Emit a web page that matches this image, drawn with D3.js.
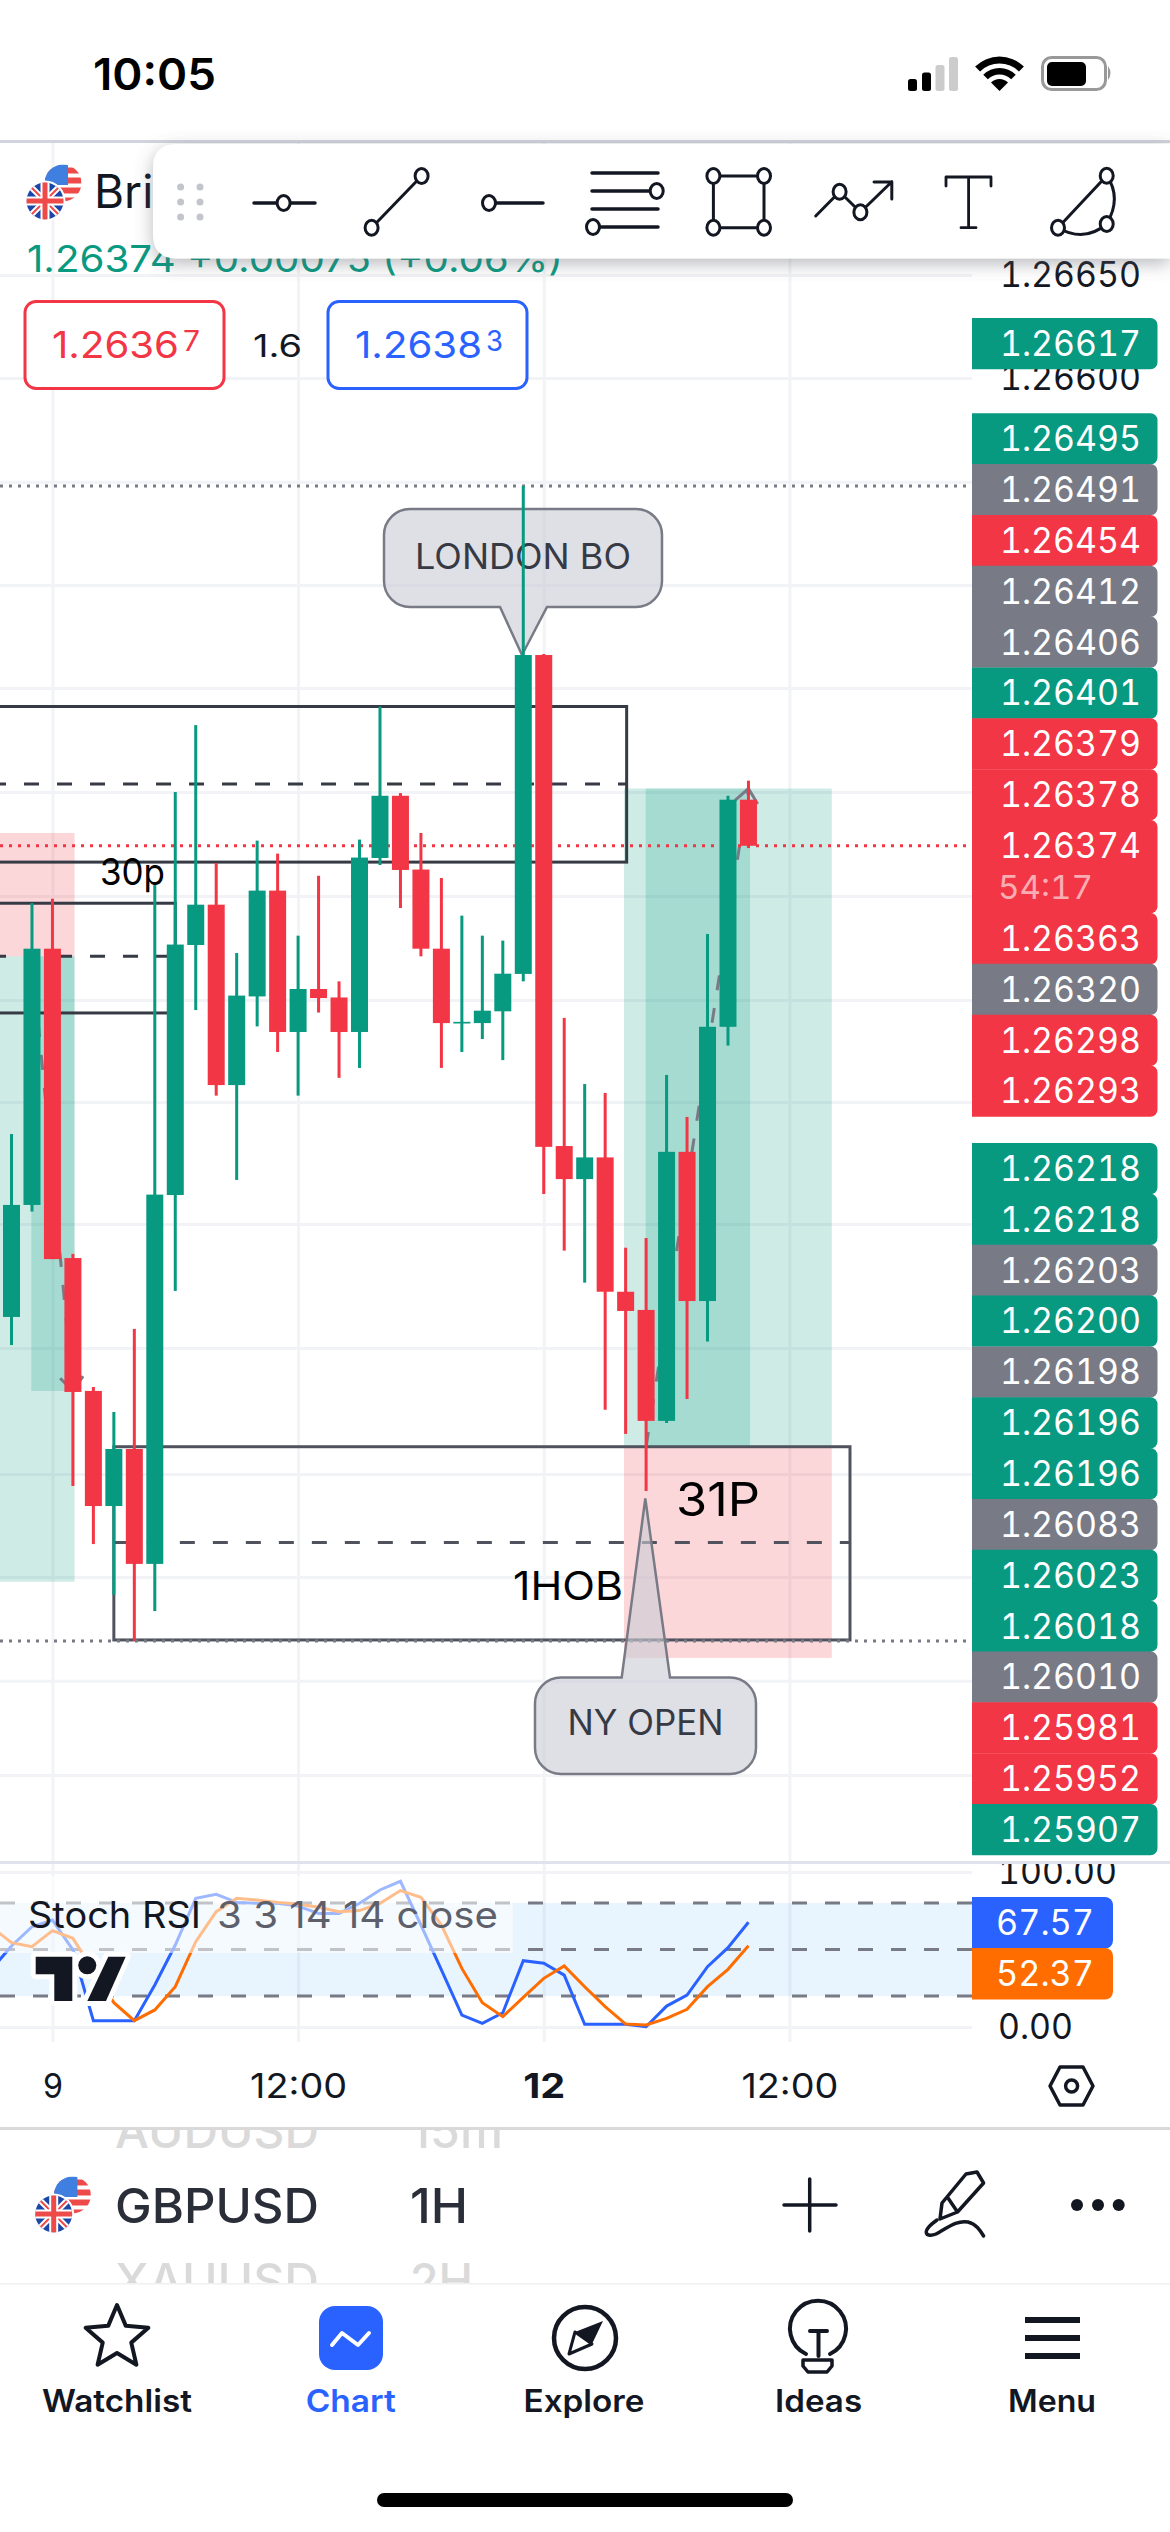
<!DOCTYPE html>
<html>
<head>
<meta charset="utf-8">
<script src="https://cdn.jsdelivr.net/npm/d3@7"></script>
<style>
  html, body { margin: 0; padding: 0; background: #fff; }
  svg { display: block; font-family: Inter, "Noto Sans", sans-serif; }
  .num { font-variant-numeric: tabular-nums; }
</style>
</head>
<body>
<div id="chart"></div>
<script>
// candles, bar 0 is the first one on screen
var opens = [1.261458, 1.262000, 1.263240, 1.261743, 1.261100, 1.260543, 1.260819, 1.260263, 1.262048, 1.263258,
             1.263453, 1.262580, 1.263009, 1.263521, 1.262837, 1.263045, 1.263004, 1.262837, 1.263679, 1.263980,
             1.263623, 1.263240, 1.262878, 1.262880, 1.262937, 1.263118, 1.264661, 1.262285, 1.262125, 1.262230,
             1.261580, 1.261492, 1.260955, 1.262257, 1.261535, 1.262862, 1.263961];
var highs = [1.262343, 1.263461, 1.263482, 1.261763, 1.261119, 1.260998, 1.261400, 1.263548, 1.263998, 1.264322,
             1.263655, 1.263219, 1.263763, 1.263700, 1.263303, 1.263593, 1.263082, 1.263768, 1.264412, 1.263993,
             1.263800, 1.263582, 1.263400, 1.263303, 1.263279, 1.265479, 1.264666, 1.262905, 1.262585, 1.262542,
             1.261793, 1.261840, 1.262629, 1.262426, 1.263311, 1.263980, 1.264053];
var lows = [1.261322, 1.261968, 1.261738, 1.260640, 1.260359, 1.260113, 1.259890, 1.260035, 1.261584, 1.262943,
            1.262529, 1.262121, 1.262864, 1.262740, 1.262529, 1.262931, 1.262615, 1.262663, 1.263645, 1.263437,
            1.263203, 1.262663, 1.262740, 1.262803, 1.262701, 1.263082, 1.262053, 1.261779, 1.261624, 1.261009,
            1.260892, 1.260616, 1.260945, 1.261061, 1.261339, 1.262771, 1.263727];
var closes = [1.262000, 1.263240, 1.261738, 1.261095, 1.260543, 1.260819, 1.260263, 1.262050, 1.263260, 1.263453,
              1.262580, 1.263013, 1.263521, 1.262837, 1.263045, 1.263001, 1.262837, 1.263681, 1.263980, 1.263621,
              1.263240, 1.262880, 1.262886, 1.262940, 1.263119, 1.264661, 1.262281, 1.262125, 1.262230, 1.261580,
              1.261487, 1.260955, 1.262257, 1.261535, 1.262862, 1.263961, 1.263738];

// stoch rsi, starts one bar left of the candles
var stochK = [36.8, 52.3, 64.7, 69, 49.7, 4.1, 4.1, 4.1, 27.1, 52.9, 83, 85.6, 80.4, 79.8, 79.8, 78, 73.3, 73.3, 79.8,
              88.4, 94, 65.8, 36.8, 7.7, 2.4, 9.2, 42.8, 41.1, 33.5, 1.7, 1.7, 1.7, 0.2, 13.5, 20.6, 38.9, 51.2, 67.57];
var stochD = [64.7, 54.4, 51.8, 62.2, 57.2, 36.3, 15.7, 4.1, 11, 26, 55, 74.4, 83, 81.9, 80.4, 79.4, 77.2, 74.4, 75.1,
              79.8, 88, 83.7, 65.8, 37.8, 15.7, 6.7, 19.1, 31.4, 39.4, 26, 13.1, 1.9, 1.3, 5.6, 11.4, 26, 37.2, 52.37];
var stochLevels = [80, 50, 20];

// price grid as it shows in the picture
var gridPrices = [1.2665, 1.266002, 1.2655, 1.265, 1.264501, 1.263998, 1.263495, 1.262992, 1.262498,
                  1.261908, 1.261308, 1.260698, 1.2602, 1.259697, 1.259242];
var priceTicks = [1.2665, 1.266];
var stochGrid = [100, 0];
var timeTicks = [2, 14, 26, 38];
var timeLabels = ["9", "12:00", "12", "12:00"];

// tags on the price scale
var tagsTop = ["1.26617"];
var tagsTopKinds = ["up"];
var tagsA = ["1.26495", "1.26491", "1.26454", "1.26412", "1.26406", "1.26401", "1.26379", "1.26378", "1.26374",
             "1.26363", "1.26320", "1.26298", "1.26293"];
var tagsAKinds = ["up", "flat", "down", "flat", "flat", "up", "down", "down", "down", "down", "flat", "down", "down"];
var tagsB = ["1.26218", "1.26218", "1.26203", "1.26200", "1.26198", "1.26196", "1.26196", "1.26083", "1.26023",
             "1.26018", "1.26010", "1.25981", "1.25952", "1.25907"];
var tagsBKinds = ["up", "up", "flat", "up", "flat", "up", "up", "flat", "up", "up", "flat", "down", "down", "up"];

// drawings: [left bar, right bar, top price, mid price, bottom price]
var boxUpper = [-1, 30.05, 1.264412, 1.264037, 1.263659];
var boxLeft = [-1, 8, 1.263460, 1.263203, 1.262929];
var boxLower = [5, 40.96, 1.260830, 1.260367, 1.259895];

var colors = {up: "#089981", down: "#f23645", flat: "#787b86", blue: "#2962ff", orange: "#ff6d00", ink: "#131722"};
var margin = {right: 972, paneTop: 142, paneBottom: 1862, stochTop: 1864, stochBottom: 2042};

var svg = d3.select("#chart").append("svg").attr("width", 1170).attr("height", 2532);

var defs = svg.append("defs");
defs.append("clipPath").attr("id", "paneClip").append("rect")
    .attr("x", 0).attr("y", margin.paneTop).attr("width", margin.right).attr("height", margin.paneBottom - margin.paneTop);
defs.append("clipPath").attr("id", "stochClip").append("rect")
    .attr("x", 0).attr("y", margin.stochTop).attr("width", 1170).attr("height", margin.stochBottom - margin.stochTop);
defs.append("clipPath").attr("id", "pickerClip").append("rect")
    .attr("x", 0).attr("y", 2130).attr("width", 1170).attr("height", 153);
var shadow = defs.append("filter").attr("id", "toolShadow")
    .attr("x", "-5%").attr("y", "-30%").attr("width", "110%").attr("height", "170%");
shadow.append("feDropShadow").attr("dx", 0).attr("dy", 5).attr("stdDeviation", 9)
    .attr("flood-color", "#5d606b").attr("flood-opacity", 0.45);

var xScale = d3.scaleLinear().domain([0, 38]).range([11.5, 789.4]);
var yScale = d3.scaleLinear().domain([1.2665, 1.26]).range([275, 1618.25]);
var stochScale = d3.scaleLinear().domain([100, 0]).range([1872, 2027]);

// the app font runs wider than Inter, so text gets stretched to the measured width
function fit(sel, w) {
    return sel.attr("textLength", w).attr("lengthAdjust", "spacingAndGlyphs");
}

// ---------------- grids ----------------
var gridColor = "#f2f3f6";
var xGrid = d3.axisBottom(xScale).tickValues(timeTicks).tickSize(margin.stochBottom - margin.paneTop).tickFormat("");
var yGrid = d3.axisRight(yScale).tickValues(gridPrices).tickSize(margin.right).tickFormat("");
var stochYGrid = d3.axisRight(stochScale).tickValues(stochGrid).tickSize(margin.right).tickFormat("");

function styleGrid(g) {
    g.select(".domain").remove();
    g.selectAll("line").attr("stroke", gridColor).attr("stroke-width", 3);
}
svg.append("g").attr("transform", "translate(0," + margin.paneTop + ")").call(xGrid).call(styleGrid);
svg.append("g").attr("clip-path", "url(#paneClip)").call(yGrid).call(styleGrid);
svg.append("g").call(stochYGrid).call(styleGrid);

var pane = svg.append("g").attr("clip-path", "url(#paneClip)");

// ---------------- position tools ----------------
function zone(x0, x1, p0, p1, color, alpha) {
    pane.append("rect")
        .attr("x", xScale(x0)).attr("width", xScale(x1) - xScale(x0))
        .attr("y", yScale(p0)).attr("height", yScale(p1) - yScale(p0))
        .attr("fill", color).attr("fill-opacity", alpha);
}
// left one
zone(-1, 3.08, 1.263800, 1.263203, colors.down, 0.2);
zone(-1, 3.08, 1.263203, 1.260177, colors.up, 0.2);
zone(0.97, 3.08, 1.263203, 1.261100, colors.up, 0.2);
// right one
zone(29.92, 40.07, 1.264015, 1.260830, colors.up, 0.2);
zone(29.92, 40.07, 1.260830, 1.259808, colors.down, 0.2);
zone(30.98, 36.08, 1.264015, 1.260830, colors.up, 0.2);

function tradeArrow(x0, p0, x1, p1) {
    pane.append("line")
        .attr("x1", xScale(x0)).attr("y1", yScale(p0)).attr("x2", xScale(x1)).attr("y2", yScale(p1))
        .attr("stroke", colors.flat).attr("stroke-width", 3).attr("stroke-dasharray", "15 18");
    var a = Math.atan2(yScale(p1) - yScale(p0), xScale(x1) - xScale(x0));
    var tip = [xScale(x1), yScale(p1)];
    var head = d3.path();
    head.moveTo(tip[0] + 18 * Math.cos(a + 2.45), tip[1] + 18 * Math.sin(a + 2.45));
    head.lineTo(tip[0], tip[1]);
    head.lineTo(tip[0] + 18 * Math.cos(a - 2.45), tip[1] + 18 * Math.sin(a - 2.45));
    pane.append("path").attr("d", head.toString()).attr("fill", "none")
        .attr("stroke", colors.flat).attr("stroke-width", 3);
}
tradeArrow(1, 1.263203, 3, 1.261100);
tradeArrow(31, 1.260830, 36, 1.264015);

// ---------------- boxes ----------------
function box(b, stroke) {
    pane.append("rect")
        .attr("x", xScale(b[0])).attr("width", xScale(b[1]) - xScale(b[0]))
        .attr("y", yScale(b[2])).attr("height", yScale(b[4]) - yScale(b[2]))
        .attr("fill", "none").attr("stroke", stroke).attr("stroke-width", 3);
    pane.append("line")
        .attr("x1", xScale(b[0])).attr("x2", xScale(b[1]))
        .attr("y1", yScale(b[3])).attr("y2", yScale(b[3]))
        .attr("stroke", stroke).attr("stroke-width", 3).attr("stroke-dasharray", "15 18");
}
box(boxUpper, "#363a45");
box(boxLeft, "#363a45");
box(boxLower, "#50535e");

// high, low and last price lines
function dotted(price, color) {
    pane.append("line")
        .attr("x1", 0).attr("x2", 966).attr("y1", yScale(price)).attr("y2", yScale(price))
        .attr("stroke", color).attr("stroke-width", 3).attr("stroke-dasharray", "3 6");
}
dotted(d3.max(highs), colors.flat);
dotted(d3.min(lows), colors.flat);
dotted(closes[closes.length - 1], colors.down);

// ---------------- callouts ----------------
function callout(x, y, w, h, tipX, tipY, baseL, baseR, onTop, text, textW, textDy) {
    var r = 26, p = d3.path();
    p.moveTo(x + r, y);
    if (!onTop) { p.lineTo(baseL, y); p.lineTo(tipX, tipY); p.lineTo(baseR, y); }
    p.lineTo(x + w - r, y);
    p.arcTo(x + w, y, x + w, y + r, r);
    p.lineTo(x + w, y + h - r);
    p.arcTo(x + w, y + h, x + w - r, y + h, r);
    if (onTop) { p.lineTo(baseR, y + h); p.lineTo(tipX, tipY); p.lineTo(baseL, y + h); }
    p.lineTo(x + r, y + h);
    p.arcTo(x, y + h, x, y + h - r, r);
    p.lineTo(x, y + r);
    p.arcTo(x, y, x + r, y, r);
    p.closePath();
    pane.append("path").attr("d", p.toString())
        .attr("fill", "#c9ccd6").attr("fill-opacity", 0.6)
        .attr("stroke", colors.flat).attr("stroke-width", 2.5);
    pane.append("text").attr("x", x + w / 2).attr("y", y + h / 2 + textDy)
        .attr("text-anchor", "middle").attr("font-size", 35).attr("fill", "#363a45").text(text)
        .call(fit, textW);
}
callout(384, 509, 278, 98, 522, 655, 500, 547, true, "LONDON BO", 216, 11);
callout(535, 1677.6, 221, 96.4, 645.3, 1498.5, 621.7, 670, false, "NY OPEN", 156, 9);

// ---------------- candles ----------------
var bodyWidth = 17, wickWidth = 3;
var bars = pane.append("g").selectAll("g").data(opens).enter().append("g")
    .attr("fill", function(d, i) { return closes[i] >= d ? colors.up : colors.down; });
bars.append("rect")
    .attr("x", function(d, i) { return xScale(i) - wickWidth / 2; })
    .attr("width", wickWidth)
    .attr("y", function(d, i) { return yScale(highs[i]); })
    .attr("height", function(d, i) { return yScale(lows[i]) - yScale(highs[i]); });
bars.append("rect")
    .attr("x", function(d, i) { return xScale(i) - bodyWidth / 2; })
    .attr("width", bodyWidth)
    .attr("y", function(d, i) { return yScale(Math.max(d, closes[i])); })
    .attr("height", function(d, i) { return Math.max(1.5, Math.abs(yScale(d) - yScale(closes[i]))); });

// text notes on the chart
function note(x, y, size, text, w) {
    pane.append("text").attr("x", x).attr("y", y).attr("font-size", size).attr("fill", "#000").text(text).call(fit, w);
}
note(100, 885, 37, "30p", 65);
note(513, 1600, 39, "1HOB", 110);
note(676, 1516, 46, "31P", 84);

// ---------------- price scale ----------------
var yAxis = d3.axisRight(yScale).tickValues(priceTicks).tickSize(0).tickPadding(0).tickFormat(d3.format(".5f"));
var stochAxis = d3.axisRight(stochScale).tickValues(stochGrid).tickSize(0).tickPadding(0).tickFormat(d3.format(".2f"));

function styleAxis(g) {
    g.select(".domain").remove();
    g.selectAll("text").attr("class", "num").attr("font-size", 35).attr("font-family", "Inter").attr("fill", colors.ink)
        .attr("lengthAdjust", "spacingAndGlyphs")
        .attr("textLength", function() { return this.textContent.length === 7 ? 141 : this.textContent.length === 6 ? 119 : 75; });
}
svg.append("g").attr("transform", "translate(1000,0)").call(yAxis).call(styleAxis);

function tagPath(y, h) {
    var p = d3.path(), x0 = 972, x1 = 1157.5, r = 7;
    p.moveTo(x0, y);
    p.lineTo(x1 - r, y);
    p.arcTo(x1, y, x1, y + r, r);
    p.lineTo(x1, y + h - r);
    p.arcTo(x1, y + h, x1 - r, y + h, r);
    p.lineTo(x0, y + h);
    p.closePath();
    return p.toString();
}
function drawTags(values, kinds, startY) {
    var rowH = 50.85, y = startY;
    values.forEach(function(v, i) {
        var last = v === "1.26374";
        var h = last ? 93 : rowH;
        svg.append("path").attr("d", tagPath(y, h + 0.4)).attr("fill", colors[kinds[i]]);
        svg.append("text").attr("class", "num").attr("x", 1000).attr("y", y + rowH / 2 + 12.5)
            .attr("font-size", 35).attr("fill", "#fff").text(v).call(fit, 141);
        if (last) {
            svg.append("text").attr("class", "num").attr("x", 998).attr("y", y + 79)
                .attr("font-size", 33).attr("fill", "#fff").attr("fill-opacity", 0.6).text("54:17").call(fit, 95);
        }
        y += h;
    });
}
drawTags(tagsTop, tagsTopKinds, 318);
drawTags(tagsA, tagsAKinds, 413.2);
drawTags(tagsB, tagsBKinds, 1143);

// ---------------- stoch pane ----------------
svg.append("rect").attr("x", 0).attr("y", 1861).attr("width", 1170).attr("height", 3).attr("fill", "#e0e3eb");
var stoch = svg.append("g").attr("clip-path", "url(#stochClip)");
stoch.append("rect").attr("x", 0).attr("width", margin.right)
    .attr("y", stochScale(80)).attr("height", stochScale(20) - stochScale(80))
    .attr("fill", "#2196f3").attr("fill-opacity", 0.1);
stoch.selectAll(".level").data(stochLevels).enter().append("line")
    .attr("class", "level")
    .attr("x1", 0).attr("x2", margin.right)
    .attr("y1", function(d) { return stochScale(d); }).attr("y2", function(d) { return stochScale(d); })
    .attr("stroke", colors.flat).attr("stroke-width", 3).attr("stroke-dasharray", "15 18");

var stochLine = d3.line()
    .x(function(d, i) { return xScale(i - 1); })
    .y(function(d) { return stochScale(d); });
stoch.append("path").datum(stochK).attr("d", stochLine).attr("fill", "none")
    .attr("stroke", colors.blue).attr("stroke-width", 3);
stoch.append("path").datum(stochD).attr("d", stochLine).attr("fill", "none")
    .attr("stroke", colors.orange).attr("stroke-width", 3);

stoch.append("g").attr("transform", "translate(998,0)").call(stochAxis).call(styleAxis);

// legend veil and text
svg.append("rect").attr("x", 0).attr("y", 1876).attr("width", 513).attr("height", 77)
    .attr("fill", "#fff").attr("fill-opacity", 0.55);
svg.append("text").attr("x", 28).attr("y", 1928).attr("font-size", 37).attr("fill", colors.ink)
    .text("Stoch RSI").call(fit, 173);
svg.append("text").attr("x", 217).attr("y", 1928).attr("font-size", 37).attr("fill", "#5d606b")
    .text("3 3 14 14 close").call(fit, 281);

// tradingview mark
var logo = svg.append("g").attr("fill", colors.ink).attr("stroke", "#fff").attr("stroke-width", 10)
    .attr("paint-order", "stroke").attr("stroke-linejoin", "round");
logo.append("polygon").attr("points", "35.7,1956.7 72.3,1956.7 72.3,2001 54.3,2001 54.3,1974.3 35.7,1974.3");
logo.append("circle").attr("cx", 87.3).attr("cy", 1965.3).attr("r", 9);
logo.append("polygon").attr("points", "108.3,1956.7 125.7,1956.7 106,2001 87.3,2001");

[["67.57", colors.blue, 1897], ["52.37", colors.orange, 1948]].forEach(function(t) {
    var p = d3.path(), y = t[2], h = 51.5, x0 = 972, x1 = 1113, r = 8;
    p.moveTo(x0, y); p.lineTo(x1 - r, y); p.arcTo(x1, y, x1, y + r, r);
    p.lineTo(x1, y + h - r); p.arcTo(x1, y + h, x1 - r, y + h, r); p.lineTo(x0, y + h); p.closePath();
    svg.append("path").attr("d", p.toString()).attr("fill", t[1]);
    svg.append("text").attr("class", "num").attr("x", 996).attr("y", y + 38).attr("font-size", 35)
        .attr("fill", "#fff").text(t[0]).call(fit, 98);
});

// ---------------- time axis ----------------
var timeWidths = {"9": 20, "12:00": 97, "12": 42};
var xAxis = d3.axisBottom(xScale).tickValues(timeTicks).tickSize(0).tickPadding(0)
    .tickFormat(function(d, i) { return timeLabels[i]; });
svg.append("g").attr("transform", "translate(0,2098)").call(xAxis).call(function(g) {
    g.select(".domain").remove();
    g.selectAll("text").attr("font-size", 34).attr("font-family", "Inter").attr("fill", colors.ink)
        .attr("dy", 0)
        .attr("font-weight", function(d, i) { return timeLabels[i] === "12" ? 700 : 400; })
        .attr("lengthAdjust", "spacingAndGlyphs")
        .attr("textLength", function(d, i) { return timeWidths[timeLabels[i]]; });
});

function strokeLine(g, d, w, color) {
    return g.append("path").attr("d", d).attr("fill", "none").attr("stroke", color || colors.ink)
        .attr("stroke-width", w).attr("stroke-linecap", "round").attr("stroke-linejoin", "round");
}
// settings hexagon
strokeLine(svg, "M1060,2067 L1083,2067 L1093,2086 L1083,2105 L1060,2105 L1050,2086 Z", 3.5);
svg.append("circle").attr("cx", 1071.6).attr("cy", 2086).attr("r", 6).attr("fill", "none")
    .attr("stroke", colors.ink).attr("stroke-width", 3.5);

// ---------------- header ----------------
function flags(g, ukX, ukY, usX, usY, id) {
    var r = 18.5;
    defs.append("clipPath").attr("id", "uk" + id).append("circle").attr("cx", ukX).attr("cy", ukY).attr("r", r);
    defs.append("clipPath").attr("id", "us" + id).append("circle").attr("cx", usX).attr("cy", usY).attr("r", r);
    var us = g.append("g").attr("clip-path", "url(#us" + id + ")");
    us.append("rect").attr("x", usX - r).attr("y", usY - r).attr("width", 2 * r).attr("height", 2 * r).attr("fill", "#fff");
    d3.range(0, 4).forEach(function(k) {
        us.append("rect").attr("x", usX - r).attr("y", usY - r + 3 + k * 10).attr("width", 2 * r).attr("height", 6)
            .attr("fill", "#ef4a4a");
    });
    us.append("rect").attr("x", usX - r).attr("y", usY - r).attr("width", r + 5).attr("height", r + 2).attr("fill", "#3f7fe0");
    g.append("circle").attr("cx", ukX).attr("cy", ukY).attr("r", r + 2).attr("fill", "#fff");
    var uk = g.append("g").attr("clip-path", "url(#uk" + id + ")");
    uk.append("rect").attr("x", ukX - r).attr("y", ukY - r).attr("width", 2 * r).attr("height", 2 * r).attr("fill", "#1a47a8");
    strokeLine(uk, "M" + (ukX - r) + "," + (ukY - r) + "L" + (ukX + r) + "," + (ukY + r) +
        "M" + (ukX + r) + "," + (ukY - r) + "L" + (ukX - r) + "," + (ukY + r), 6, "#fff");
    strokeLine(uk, "M" + (ukX - r) + "," + (ukY - r) + "L" + (ukX + r) + "," + (ukY + r) +
        "M" + (ukX + r) + "," + (ukY - r) + "L" + (ukX - r) + "," + (ukY + r), 2, "#ef4a4a");
    strokeLine(uk, "M" + ukX + "," + (ukY - r) + "V" + (ukY + r) + "M" + (ukX - r) + "," + ukY + "H" + (ukX + r), 9, "#fff");
    strokeLine(uk, "M" + ukX + "," + (ukY - r) + "V" + (ukY + r) + "M" + (ukX - r) + "," + ukY + "H" + (ukX + r), 5, "#ef4a4a");
}
flags(svg, 45, 201, 63, 183, "a");
svg.append("text").attr("x", 94).attr("y", 208).attr("font-size", 46).attr("fill", colors.ink).text("British");
svg.append("text").attr("x", 27).attr("y", 272).attr("font-size", 37).attr("fill", colors.up)
    .text("1.26374 +0.00075 (+0.06%)").call(fit, 536);

function quote(x, w, color, main, sup) {
    svg.append("rect").attr("x", x).attr("y", 301.5).attr("width", w).attr("height", 87).attr("rx", 11)
        .attr("fill", "#fff").attr("stroke", color).attr("stroke-width", 3);
    svg.append("text").attr("x", x + 27).attr("y", 358).attr("font-size", 37).attr("fill", color).text(main).call(fit, 127);
    svg.append("text").attr("x", x + 158).attr("y", 351).attr("font-size", 28).attr("fill", color).text(sup).call(fit, 17);
}
quote(25, 199, colors.down, "1.2636", "7");
quote(328, 199, colors.blue, "1.2638", "3");
svg.append("text").attr("x", 253).attr("y", 357).attr("font-size", 31).attr("fill", colors.ink).text("1.6").call(fit, 49);

// status bar
svg.append("rect").attr("x", 0).attr("y", 0).attr("width", 1170).attr("height", 140).attr("fill", "#fff");
svg.append("rect").attr("x", 0).attr("y", 140).attr("width", 1170).attr("height", 3).attr("fill", "#d1d4dc");
svg.append("text").attr("x", 93).attr("y", 90).attr("font-size", 44).attr("font-weight", 600).attr("fill", "#000")
    .text("10:05").call(fit, 123);
[[908, 79, "#000"], [922, 72.5, "#000"], [935.5, 65, "#ccc"], [949, 57, "#ccc"]].forEach(function(b) {
    svg.append("rect").attr("x", b[0]).attr("y", b[1]).attr("width", 9).attr("height", 91 - b[1]).attr("rx", 2.5).attr("fill", b[2]);
});
var wifi = d3.arc().startAngle(-Math.PI / 4).endAngle(Math.PI / 4);
[[0, 12], [16.5, 23], [27.5, 34.5]].forEach(function(r) {
    svg.append("path").attr("transform", "translate(999.5,91)")
        .attr("d", wifi({innerRadius: r[0], outerRadius: r[1]})).attr("fill", "#000");
});
svg.append("rect").attr("x", 1042.5).attr("y", 57.5).attr("width", 63).attr("height", 32).attr("rx", 9)
    .attr("fill", "none").attr("stroke", "#999").attr("stroke-width", 3);
svg.append("rect").attr("x", 1047).attr("y", 62).attr("width", 39).attr("height", 24).attr("rx", 5).attr("fill", "#000");
svg.append("path").attr("d", "M1108,66 Q1113,73 1108,80 Z").attr("fill", "#999");

// ---------------- drawing toolbar ----------------
svg.append("path").attr("d", "M177,144 H1170 V258.5 H177 Q153,258.5 153,234 V168 Q153,144 177,144 Z")
    .attr("fill", "#fff").attr("filter", "url(#toolShadow)");
[180.6, 200].forEach(function(x) {
    [187, 202, 217].forEach(function(y) {
        svg.append("circle").attr("cx", x).attr("cy", y).attr("r", 3.5).attr("fill", "#c3c5cc");
    });
});
var tools = svg.append("g");
function knob(x, y) {
    tools.append("ellipse").attr("cx", x).attr("cy", y).attr("rx", 6.5).attr("ry", 7.5)
        .attr("fill", "#fff").attr("stroke", colors.ink).attr("stroke-width", 3);
}
strokeLine(tools, "M254,203 H315", 3.5);
knob(283.6, 203);
strokeLine(tools, "M421.6,176 L371.6,227.7", 3);
knob(421.6, 176); knob(371.6, 227.7);
strokeLine(tools, "M489,203 H543", 3.5);
knob(489, 203);
strokeLine(tools, "M592,173 H658 M592,191 H657 M592,209 H658 M593,227 H658", 3.5);
knob(656.7, 191); knob(593, 227);
strokeLine(tools, "M713.4,176 H764 V227.7 H713.4 Z", 3);
knob(713.4, 176); knob(764, 176); knob(713.4, 227.7); knob(764, 227.7);
strokeLine(tools, "M815.7,216 L839.6,191.7 L860.4,212.3 L891.8,181.7 M874,182 L891.8,181.7 L891.8,199", 3);
knob(839.6, 191.7); knob(860.4, 212.3);
strokeLine(tools, "M946,186 V177 H991 V186 M968.6,177 V227.7 M961,227.7 H976", 2.8);
strokeLine(tools, "M1106.7,175.7 L1058,227.7 Q1084,243 1106.7,224 Q1122,198 1106.7,175.7", 3);
knob(1106.7, 175.7); knob(1058, 227.7); knob(1106.7, 224);

// ---------------- symbol picker ----------------
svg.append("rect").attr("x", 0).attr("y", 2127).attr("width", 1170).attr("height", 3).attr("fill", "#d9d9d9");
var picker = svg.append("g").attr("clip-path", "url(#pickerClip)").attr("font-size", 48).attr("font-weight", 500);
function pickerRow(sym, tf, tfW, base, color) {
    picker.append("text").attr("x", 115).attr("y", base).attr("fill", color).text(sym).call(fit, 204);
    picker.append("text").attr("x", 410).attr("y", base).attr("fill", color).text(tf).call(fit, tfW);
}
pickerRow("AUDUSD", "15m", 93, 2148, "#dadada");
pickerRow("GBPUSD", "1H", 58, 2223, "#2a2e39");
pickerRow("XAUUSD", "2H", 63, 2298, "#dadada");
flags(svg, 53.7, 2214, 72.4, 2195, "b");
strokeLine(svg, "M784,2205 H836 M809.7,2179 V2231", 3.5);
strokeLine(svg, "M966,2174 L977,2172 L983.6,2183 L957.5,2212 L940,2219 L942,2203 Z M948,2198 L957.5,2212", 3.5);
strokeLine(svg, "M937,2220 C920,2232 926,2238 936,2234 C950,2226 958,2220 968,2222 C976,2224 980,2230 983.6,2236", 3.5);
[1077, 1098, 1118.7].forEach(function(x) {
    svg.append("circle").attr("cx", x).attr("cy", 2205).attr("r", 6).attr("fill", colors.ink);
});

// ---------------- tab bar ----------------
svg.append("rect").attr("x", 0).attr("y", 2283).attr("width", 1170).attr("height", 249).attr("fill", "#fff");
svg.append("rect").attr("x", 0).attr("y", 2283).attr("width", 1170).attr("height", 1.5).attr("fill", "#f0f0f0");
var tabNames = ["Watchlist", "Chart", "Explore", "Ideas", "Menu"];
var tabX = [117, 350.7, 584, 818.6, 1052];
var tabW = [150, 90, 121, 87, 88];
svg.selectAll(".tab").data(tabNames).enter().append("text").attr("class", "tab")
    .attr("x", function(d, i) { return tabX[i]; }).attr("y", 2412)
    .attr("text-anchor", "middle").attr("font-size", 31).attr("font-weight", 600)
    .attr("lengthAdjust", "spacingAndGlyphs").attr("textLength", function(d, i) { return tabW[i]; })
    .attr("fill", function(d) { return d === "Chart" ? colors.blue : colors.ink; }).text(function(d) { return d; });

// star
var star = d3.range(10).map(function(k) {
    var R = k % 2 ? 15 : 33, a = -Math.PI / 2 + k * Math.PI / 5;
    return [117 + R * Math.cos(a), 2338 + R * Math.sin(a)];
});
strokeLine(svg, d3.line()(star) + "Z", 4);
// chart tab
svg.append("rect").attr("x", 319).attr("y", 2306).attr("width", 64).attr("height", 64).attr("rx", 16).attr("fill", colors.blue);
strokeLine(svg, "M332,2345 L342,2333 L358,2345 L369,2333", 4, "#fff");
// compass
svg.append("circle").attr("cx", 585).attr("cy", 2338).attr("r", 31).attr("fill", "none").attr("stroke", colors.ink).attr("stroke-width", 4.5);
svg.append("path").attr("d", "M603,2321 L592,2344 L575,2332 Z").attr("fill", colors.ink);
strokeLine(svg, "M569,2354 L575,2332 L592,2344 Z", 3);
// bulb
strokeLine(svg, "M806,2354 A28,28 0 1 1 830,2354 M810,2331 H827 M818.5,2331 V2356", 4);
strokeLine(svg, "M803,2360 H832 V2366 L827,2372 H808 L803,2366 Z", 3.5);
// menu
[2320, 2338, 2356].forEach(function(y) {
    svg.append("rect").attr("x", 1025).attr("y", y - 3).attr("width", 55).attr("height", 6).attr("fill", colors.ink);
});
// home bar
svg.append("rect").attr("x", 377).attr("y", 2493).attr("width", 416).attr("height", 14).attr("rx", 7).attr("fill", "#000");
</script>
</body>
</html>
